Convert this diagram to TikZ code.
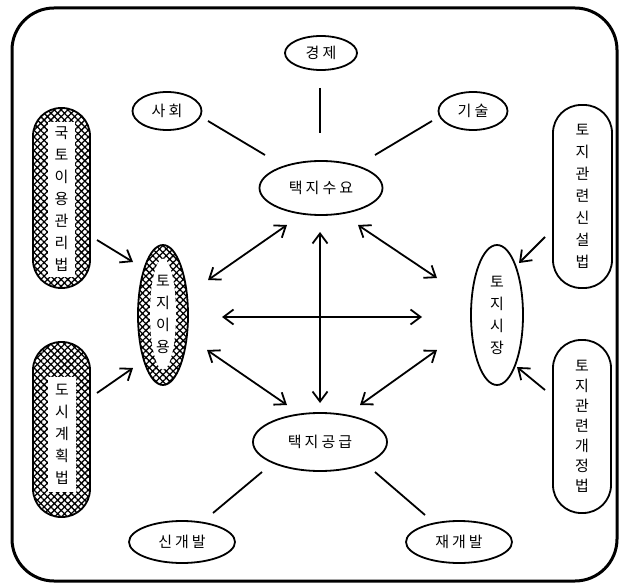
\documentclass[tikz,border=0pt]{standalone}
\usepackage{fontspec}
\newfontfamily\kr{Noto Sans CJK KR}
\usetikzlibrary{shapes.geometric,arrows.meta,patterns.meta,calc}
\newcommand\gapk{\hspace{3pt}}
\begin{document}
\begin{tikzpicture}[x=1pt,y=-1pt,
  oval/.style={ellipse,draw,line width=1.8pt,inner sep=0pt,font=\kr\fontsize{15}{15}\selectfont},
  vtext/.style={align=center,inner sep=0pt,font=\kr\fontsize{15}{22}\selectfont},
  lawbox/.style={rectangle,draw,line width=1.8pt,rounded corners=28pt,inner sep=0pt},
  hatchfill/.style={pattern={Hatch[angle=45,distance=4.8pt,line width=1.3pt]}},
  link/.style={line width=1.8pt},
  tipk/.tip={Straight Barb[length=10pt,width=15pt]},
  dbl/.style={line width=1.8pt,tipk-tipk},
  one/.style={line width=1.8pt,-tipk}]
\useasboundingbox (0,0) rectangle (620,585);
% frame
\draw[line width=3pt,rounded corners=42pt] (12,8) rectangle (617,581);

% top ellipses
\node[oval,minimum width=72pt,minimum height=34pt] (econ) at (321,53) {경\gapk 제};
\node[oval,minimum width=69pt,minimum height=38pt] (soc) at (167,111) {사\gapk 회};
\node[oval,minimum width=69pt,minimum height=38pt] (tech) at (473,111) {기\gapk 술};
\node[oval,minimum width=123pt,minimum height=54pt] (dem) at (321,188) {택\gapk 지\gapk 수\gapk 요};

% middle
\node[ellipse,draw,line width=1.8pt,hatchfill,minimum width=50pt,minimum height=140pt,inner sep=0pt] (use) at (163,315) {};
\node[ellipse,fill=white,minimum width=26pt,minimum height=110pt,inner sep=0pt,vtext] (usetxt) at (163,314) {토\\지\\이\\용};
\node[oval,minimum width=52pt,minimum height=140pt,vtext] (mkt) at (497,315) {토\\지\\시\\장};

% bottom
\node[oval,minimum width=134pt,minimum height=58pt] (sup) at (320,442) {택\gapk 지\gapk 공\gapk 급};
\node[oval,minimum width=106pt,minimum height=42pt] (ndev) at (182,542) {신\gapk 개\gapk 발};
\node[oval,minimum width=106pt,minimum height=42pt] (rdev) at (459,542) {재\gapk 개\gapk 발};

% law boxes
\node[lawbox,hatchfill,minimum width=57pt,minimum height=180pt] (lawA) at (61.5,198) {};
\node[fill=white,minimum width=27pt,minimum height=155pt,vtext] (lawAt) at (61.5,199.5) {국\\토\\이\\용\\관\\리\\법};
\node[lawbox,hatchfill,minimum width=57pt,minimum height=175pt] (lawB) at (61.5,429.5) {};
\node[fill=white,minimum width=28pt,minimum height=115pt,vtext] (lawBt) at (62,434.5) {도\\시\\계\\획\\법};
\node[lawbox,minimum width=59pt,minimum height=183pt,vtext] (lawC) at (582.5,196.5) {토\\지\\관\\련\\신\\설\\법};
\node[lawbox,minimum width=58pt,minimum height=173pt,vtext,font=\kr\fontsize{15}{20}\selectfont] (lawD) at (582,426.5) {토\\지\\관\\련\\개\\정\\법};

% plain links
\draw[link] ($(econ)+(-1,35)$) -- ($(dem)+(-1,-55)$);
\draw[link] ($(soc)+(41,10)$) -- ($(dem)+(-56,-33)$);
\draw[link] ($(tech)+(-41,10)$) -- ($(dem)+(54,-33)$);
\draw[link] ($(sup)+(-58,30)$) -- ($(ndev)+(31,-29)$);
\draw[link] ($(sup)+(55,30)$) -- ($(rdev)+(-34,-27)$);

% double arrows
\draw[dbl] ($(use)+(45,-35)$) -- ($(dem)+(-34,37)$);
\draw[dbl] ($(dem)+(-1,44)$) -- ($(sup)+(0,-39)$);
\draw[dbl] ($(use)+(59,2)$) -- ($(mkt)+(-75,2)$);
\draw[dbl] ($(dem)+(37,37)$) -- ($(mkt)+(-60,-37)$);
\draw[dbl] ($(use)+(44,35)$) -- ($(sup)+(-33,-37)$);
\draw[dbl] ($(mkt)+(-60,35)$) -- ($(sup)+(40,-37)$);

% law arrows
\draw[one] ($(lawA)+(35.5,42)$) -- ($(use)+(-30,-53)$);
\draw[one] ($(lawB)+(35.5,-36.5)$) -- ($(use)+(-30,53)$);
\draw[one] ($(lawC)+(-37.5,40.5)$) -- ($(mkt)+(22,-52)$);
\draw[one] ($(lawD)+(-37,-36.5)$) -- ($(mkt)+(20,52)$);
\end{tikzpicture}
\end{document}
